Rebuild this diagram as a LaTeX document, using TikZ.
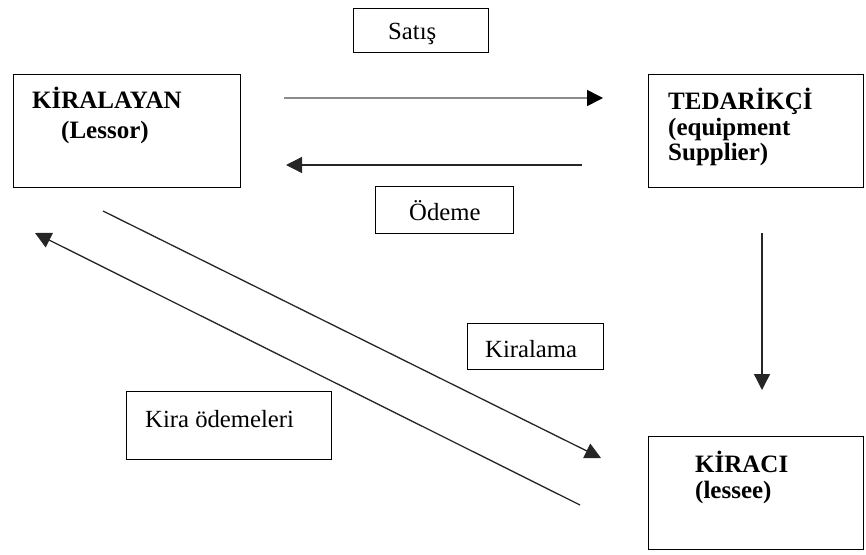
\documentclass[tikz,border=0pt]{standalone}
\usepackage{fontspec}
\setmainfont{Liberation Serif}
\usetikzlibrary{arrows.meta}
\begin{document}
\begin{tikzpicture}[x=1pt,y=-1pt,
  box/.style={draw=black,line width=1.3pt,anchor=north west,inner sep=0pt,minimum width=#1},
  ttl/.style={anchor=base west,inner sep=0pt,font=\fontsize{25}{28}\selectfont\bfseries},
  lbl/.style={anchor=base west,inner sep=0pt,font=\fontsize{24.7}{28}\selectfont},
  arr/.style={line width=1.3pt,draw=black!85,-{Triangle[length=16pt,width=16pt]}},
  garr/.style={line width=1.6pt,draw=black!45,-{Triangle[length=16pt,width=16pt,color=black]}}
]
\useasboundingbox (0,0) rectangle (866,554);
% boxes
\node[box=227pt,minimum height=113pt] (lessor) at (13,74) {};
\node[box=215pt,minimum height=113pt] (supplier) at (648,74) {};
\node[box=215pt,minimum height=113pt] (lessee) at (648,436) {};
\node[box=135pt,minimum height=44pt] (satisbox) at (353,8) {};
\node[box=138pt,minimum height=47pt] (odemebox) at (375,186) {};
\node[box=205pt,minimum height=68pt] (kirabox) at (126,391) {};
\node[box=136pt,minimum height=46pt] (kiralamabox) at (467,323) {};
% texts
\node[ttl] (t1) at (32,108) {KİRALAYAN};
\node[ttl] (t2) at (61,138) {(Lessor)};
\node[ttl] (t3) at (668,109) {TEDARİKÇİ};
\node[ttl] (t4) at (668,135) {(equipment};
\node[ttl] (t5) at (668,160) {Supplier)};
\node[ttl] (t6) at (695,472) {KİRACI};
\node[ttl] (t7) at (695,498) {(lessee)};
\node[lbl] (l1) at (388,39) {Satış};
\node[lbl] (l2) at (409,220) {Ödeme};
\node[lbl] (l3) at (145,427) {Kira ödemeleri};
\node[lbl] (l4) at (485,357) {Kiralama};
% arrow end points
\coordinate (a1s) at (284,98);
\coordinate (a1e) at (603,98);
\coordinate (a2s) at (582,165);
\coordinate (a2e) at (286,165);
\coordinate (a3s) at (762,233);
\coordinate (a3e) at (762,390);
\coordinate (a4s) at (103,211);
\coordinate (a4e) at (601,458);
\coordinate (a5s) at (580,505);
\coordinate (a5e) at (35,233);
% arrows
\draw[garr] (a1s) -- (a1e);
\draw[arr] (a2s) -- (a2e);
\draw[arr] (a3s) -- (a3e);
\draw[arr] (a4s) -- (a4e);
\draw[arr] (a5s) -- (a5e);
\end{tikzpicture}
\end{document}
